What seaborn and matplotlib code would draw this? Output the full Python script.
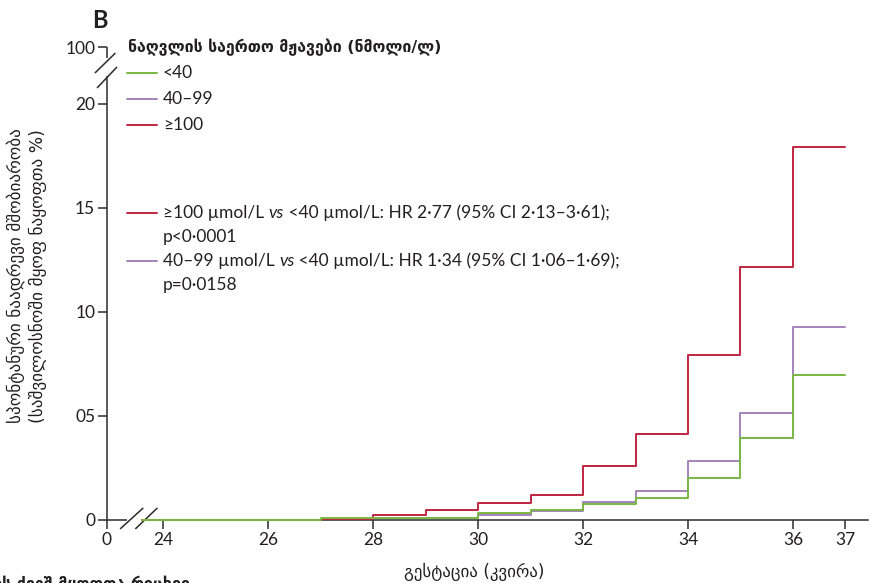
import numpy as np
import pandas as pd
import matplotlib
matplotlib.use("Agg")
import matplotlib.pyplot as plt
from matplotlib.lines import Line2D
import seaborn as sns

# ---- data ----
weeks = [23.6, 27, 28, 29, 30, 31, 32, 33, 34, 35, 36, 37]
pct_low = [0, 0.10, 0.12, 0.12, 0.32, 0.47, 0.77, 1.04, 2.02, 3.93, 6.97, 6.97]
pct_mid = [0, 0.07, 0.10, 0.10, 0.22, 0.42, 0.88, 1.41, 2.85, 5.16, 9.28, 9.28]
pct_high = [0, 0.03, 0.25, 0.47, 0.83, 1.19, 2.58, 4.15, 7.93, 12.18, 17.93, 17.93]
groups = ["<40", "40–99", "≥100"]
group_colors = {"<40": "#78b843", "40–99": "#a583bd", "≥100": "#c1243f"}

x_ticks = [22.93, 24, 26, 28, 30, 32, 34, 36, 37]
x_ticklabels = ["0", "24", "26", "28", "30", "32", "34", "36", "37"]
y_ticks = [0, 5, 10, 15, 20, 22.74]
y_ticklabels = ["0", "05", "10", "15", "20", "100"]

legend_title = "ნაღვლის საერთო მჟავები (ნმოლი/ლ)"
hr_lines = [
    ("≥100", "≥100 µmol/L ", "vs", " <40 µmol/L: HR 2·77 (95% CI 2·13–3·61);", "p<0·0001"),
    ("40–99", "40–99 µmol/L ", "vs", " <40 µmol/L: HR 1·34 (95% CI 1·06–1·69);", "p=0·0158"),
]
xlabel = "გესტაცია (კვირა)"
ylabel = "სპონტანური ნაადრევი მშობიარობა\n(საშვილოსნოში მყოფ ნაყოფთა %)"
risk_label = "რისკის ქვეშ მყოფთა რიცხვი"

# ---- style ----
sns.set_theme(style="white")
plt.rcParams["font.family"] = ["Lato", "DejaVu Sans"]
TXT = "#231f20"
AX = "#2b2b2b"
FS = 12.5

W, H = 869, 583
fig = plt.figure(figsize=(W / 100, H / 100), dpi=100)
ax = fig.add_axes([107 / W, 63 / H, 761 / W, 473 / H])

df = pd.DataFrame({
    "week": weeks * 3,
    "pct": pct_mid + pct_high + pct_low,
    "group": ["40–99"] * len(weeks) + ["≥100"] * len(weeks) + ["<40"] * len(weeks),
})
sns.lineplot(data=df, x="week", y="pct", hue="group",
             hue_order=["40–99", "≥100", "<40"], palette=group_colors,
             drawstyle="steps-post", estimator=None, sort=False,
             legend=False, linewidth=1.4, ax=ax)
for ln in ax.lines:
    ln.set_clip_on(False)
    ln.set_zorder(3)

ax.set_xlim(22.93, 37.43)
ax.set_ylim(0, 22.74)
ax.set_xticks(x_ticks)
ax.set_xticklabels(x_ticklabels)
ax.set_yticks(y_ticks)
ax.set_yticklabels(y_ticklabels)
ax.set_xlabel("")
ax.set_ylabel("")
ax.tick_params(axis="both", direction="out", length=6.5, width=1.1,
               color=AX, labelcolor=TXT, labelsize=FS, pad=2)
ax.tick_params(axis="both", which="both", bottom=True, left=True)

for s in ["top", "right"]:
    ax.spines[s].set_visible(False)
for s in ["left", "bottom"]:
    ax.spines[s].set_color(AX)
    ax.spines[s].set_linewidth(1.1)
ax.spines["left"].set_bounds(0, 21.3)
ax.spines["bottom"].set_bounds(23.68, 37.43)

# broken-axis pieces
seg = dict(color=AX, lw=1.1, clip_on=False, zorder=2, solid_capstyle="butt")
ax.plot([22.93, 22.93], [22.21, 22.74], **seg)
ax.plot([22.93, 23.31], [0, 0], **seg)
ax.plot([22.70, 23.09], [21.49, 22.45], **seg)
ax.plot([22.74, 23.12], [20.77, 21.78], **seg)
ax.plot([23.18, 23.62], [-0.43, 0.58], **seg)
ax.plot([23.47, 23.89], [-0.43, 0.58], **seg)


def fx(x):
    return x / W


def fy(y):
    return 1 - y / H


fig.text(fx(100), fy(20), "B", ha="center", va="center", fontsize=17,
         fontweight="bold", color=TXT, family=["Lato", "DejaVu Sans"])

# legend
fig.text(fx(128), fy(47), legend_title, ha="left", va="center", fontsize=11.4,
         fontweight="bold", color=TXT, family=["DejaVu Sans"])
for g, yy in zip(groups, [73, 99, 125]):
    fig.add_artist(Line2D([fx(127), fx(157)], [fy(yy), fy(yy)],
                          color=group_colors[g], lw=1.4))
    fig.text(fx(163), fy(yy), g, ha="left", va="center", fontsize=FS, color=TXT)

for (g, a, v, b, p), yy in zip(hr_lines, [213, 261]):
    fig.add_artist(Line2D([fx(127), fx(157)], [fy(yy), fy(yy)],
                          color=group_colors[g], lw=1.4))
    t1 = fig.text(fx(163), fy(yy), a, ha="left", va="center", fontsize=FS, color=TXT)
    t2 = ax.annotate(v, xy=(1, 0), xycoords=t1, ha="left", va="bottom",
                     fontsize=FS, color=TXT, style="italic")
    ax.annotate(b, xy=(1, 0), xycoords=t2, ha="left", va="bottom",
                fontsize=FS, color=TXT)
    fig.text(fx(163), fy(yy + 24), p, ha="left", va="center", fontsize=FS, color=TXT)

# axis labels
fig.text(fx(474), fy(572), xlabel, ha="center", va="center", fontsize=12.2,
         color=TXT, family=["DejaVu Sans"])
fig.text(fx(27), fy(276), ylabel, ha="center", va="center", rotation=90,
         fontsize=12.3, color=TXT, family=["DejaVu Sans"], linespacing=1.25,
         multialignment="center")
fig.text(fx(190), fy(584), risk_label, ha="right", va="center", fontsize=11.5,
         fontweight="bold", color=TXT, family=["DejaVu Sans"])

fig.savefig("out.png", dpi=100)
